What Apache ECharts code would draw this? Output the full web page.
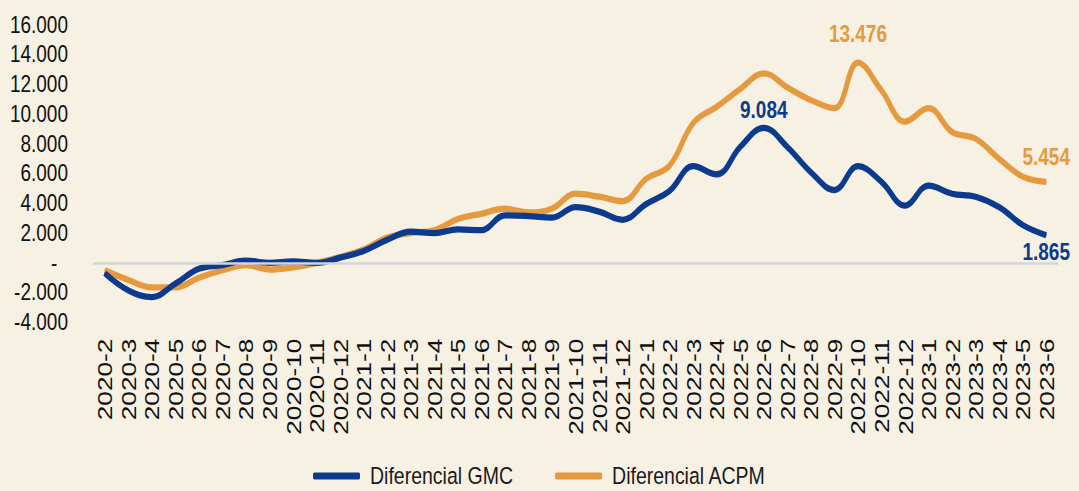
<!DOCTYPE html>
<html>
<head>
<meta charset="utf-8">
<script src="https://cdn.jsdelivr.net/npm/echarts@6/dist/echarts.min.js"></script>
<style>
  html, body { margin: 0; padding: 0; background: #f7f1e4; }
  body { width: 1079px; height: 491px; }
  /* el gráfico original viene estirado en vertical, se replica con scaleY */
  #chart { width: 1079px; height: 393px; transform: scaleY(1.2494); transform-origin: 0 0; }
</style>
</head>
<body>
<div id="chart"></div>
<script>
// categorías (año-mes)
const months = [
    '2020-2', '2020-3', '2020-4', '2020-5', '2020-6', '2020-7', '2020-8', '2020-9', '2020-10', '2020-11', '2020-12',
    '2021-1', '2021-2', '2021-3', '2021-4', '2021-5', '2021-6', '2021-7', '2021-8', '2021-9', '2021-10', '2021-11', '2021-12',
    '2022-1', '2022-2', '2022-3', '2022-4', '2022-5', '2022-6', '2022-7', '2022-8', '2022-9', '2022-10', '2022-11', '2022-12',
    '2023-1', '2023-2', '2023-3', '2023-4', '2023-5', '2023-6'
];

// Diferencial GMC
const gmc = [
    -700, -1850, -2300, -1400, -400, -150, 150, 0, 100, 0, 350,
    800, 1550, 2100, 2000, 2250, 2200, 3200, 3150, 3050, 3750, 3450, 2900,
    3950, 4850, 6500, 5950, 7800, 9084, 7800, 6100, 4900, 6500, 5450, 3850,
    5200, 4650, 4450, 3750, 2550, 1865
];

// Diferencial ACPM
const acpm = [
    -500, -1150, -1650, -1650, -1000, -500, -150, -450, -300, 0, 400,
    900, 1700, 2000, 2200, 2950, 3300, 3650, 3400, 3650, 4650, 4450, 4150,
    5650, 6550, 9400, 10500, 11700, 12750, 11800, 10950, 10400, 13476, 11600, 9500,
    10400, 8800, 8350, 7000, 5800, 5454
];

// puntos con etiqueta: índice -> [posición, distancia]
const gmcLabels = { 28: ['top', 4], 40: ['bottom', 4] };
const acpmLabels = { 32: ['top', 13], 40: ['top', 10] };

const yTicks = { min: -4000, max: 16000, interval: 2000 };

const BLUE = '#0b3a8e';
const ORANGE = '#e59a3f';
const FONT = 'Liberation Sans, Arial, sans-serif';

function fmt(v) {
    if (v === 0) return '-  ';
    const s = Math.abs(Math.round(v)).toString().replace(/\B(?=(\d{3})+(?!\d))/g, '.');
    return (v < 0 ? '-' : '') + s;
}

function withLabels(values, labels, color) {
    return values.map((v, i) => {
        if (!labels[i]) return v;
        return {
            value: v,
            label: {
                show: true,
                position: labels[i][0],
                distance: labels[i][1],
                formatter: (p) => fmt(p.value),
                color: color,
                fontFamily: FONT,
                fontSize: 19,
                fontWeight: 'bold'
            }
        };
    });
}

const chart = echarts.init(document.getElementById('chart'), null, { renderer: 'svg' });

chart.setOption({
    backgroundColor: '#f7f1e4',
    animation: false,
    grid: { left: 93, right: 21, top: 20, bottom: 135 },
    legend: {
        left: 'center',
        top: 366,
        icon: 'roundRect',
        itemWidth: 47,
        itemHeight: 5.5,
        itemGap: 42,
        textStyle: { fontFamily: FONT, fontSize: 19.5, color: '#1a1a1a', padding: [0, 0, 0, 5] },
        data: ['Diferencial GMC', 'Diferencial ACPM']
    },
    xAxis: {
        type: 'category',
        data: months,
        boundaryGap: true,
        axisLine: { show: false, onZero: false },
        axisTick: { show: false },
        axisLabel: {
            rotate: 90,
            interval: 0,
            margin: 13,
            fontFamily: FONT,
            fontSize: 21,
            color: '#111'
        }
    },
    yAxis: {
        type: 'value',
        min: yTicks.min,
        max: yTicks.max,
        interval: yTicks.interval,
        splitLine: { show: false },
        axisLine: { show: false },
        axisTick: { show: false },
        axisLabel: {
            margin: 25,
            fontFamily: FONT,
            fontSize: 19,
            color: '#111',
            formatter: fmt
        }
    },
    series: [
        {
            name: 'Diferencial GMC',
            type: 'line',
            smooth: 0.4,
            symbol: 'circle',
            symbolSize: 1,
            showAllSymbol: true,
            itemStyle: { color: BLUE },
            lineStyle: { color: BLUE, width: 5 },
            data: withLabels(gmc, gmcLabels, BLUE),
            z: 3
        },
        {
            name: 'Diferencial ACPM',
            type: 'line',
            smooth: 0.4,
            symbol: 'circle',
            symbolSize: 1,
            showAllSymbol: true,
            itemStyle: { color: ORANGE },
            lineStyle: { color: ORANGE, width: 5 },
            data: withLabels(acpm, acpmLabels, ORANGE),
            markLine: {
                silent: true,
                symbol: 'none',
                label: { show: false },
                lineStyle: { color: '#d6d6d6', width: 2, type: 'solid' },
                data: [{ yAxis: 0 }]
            },
            z: 2
        }
    ]
});
</script>
</body>
</html>
